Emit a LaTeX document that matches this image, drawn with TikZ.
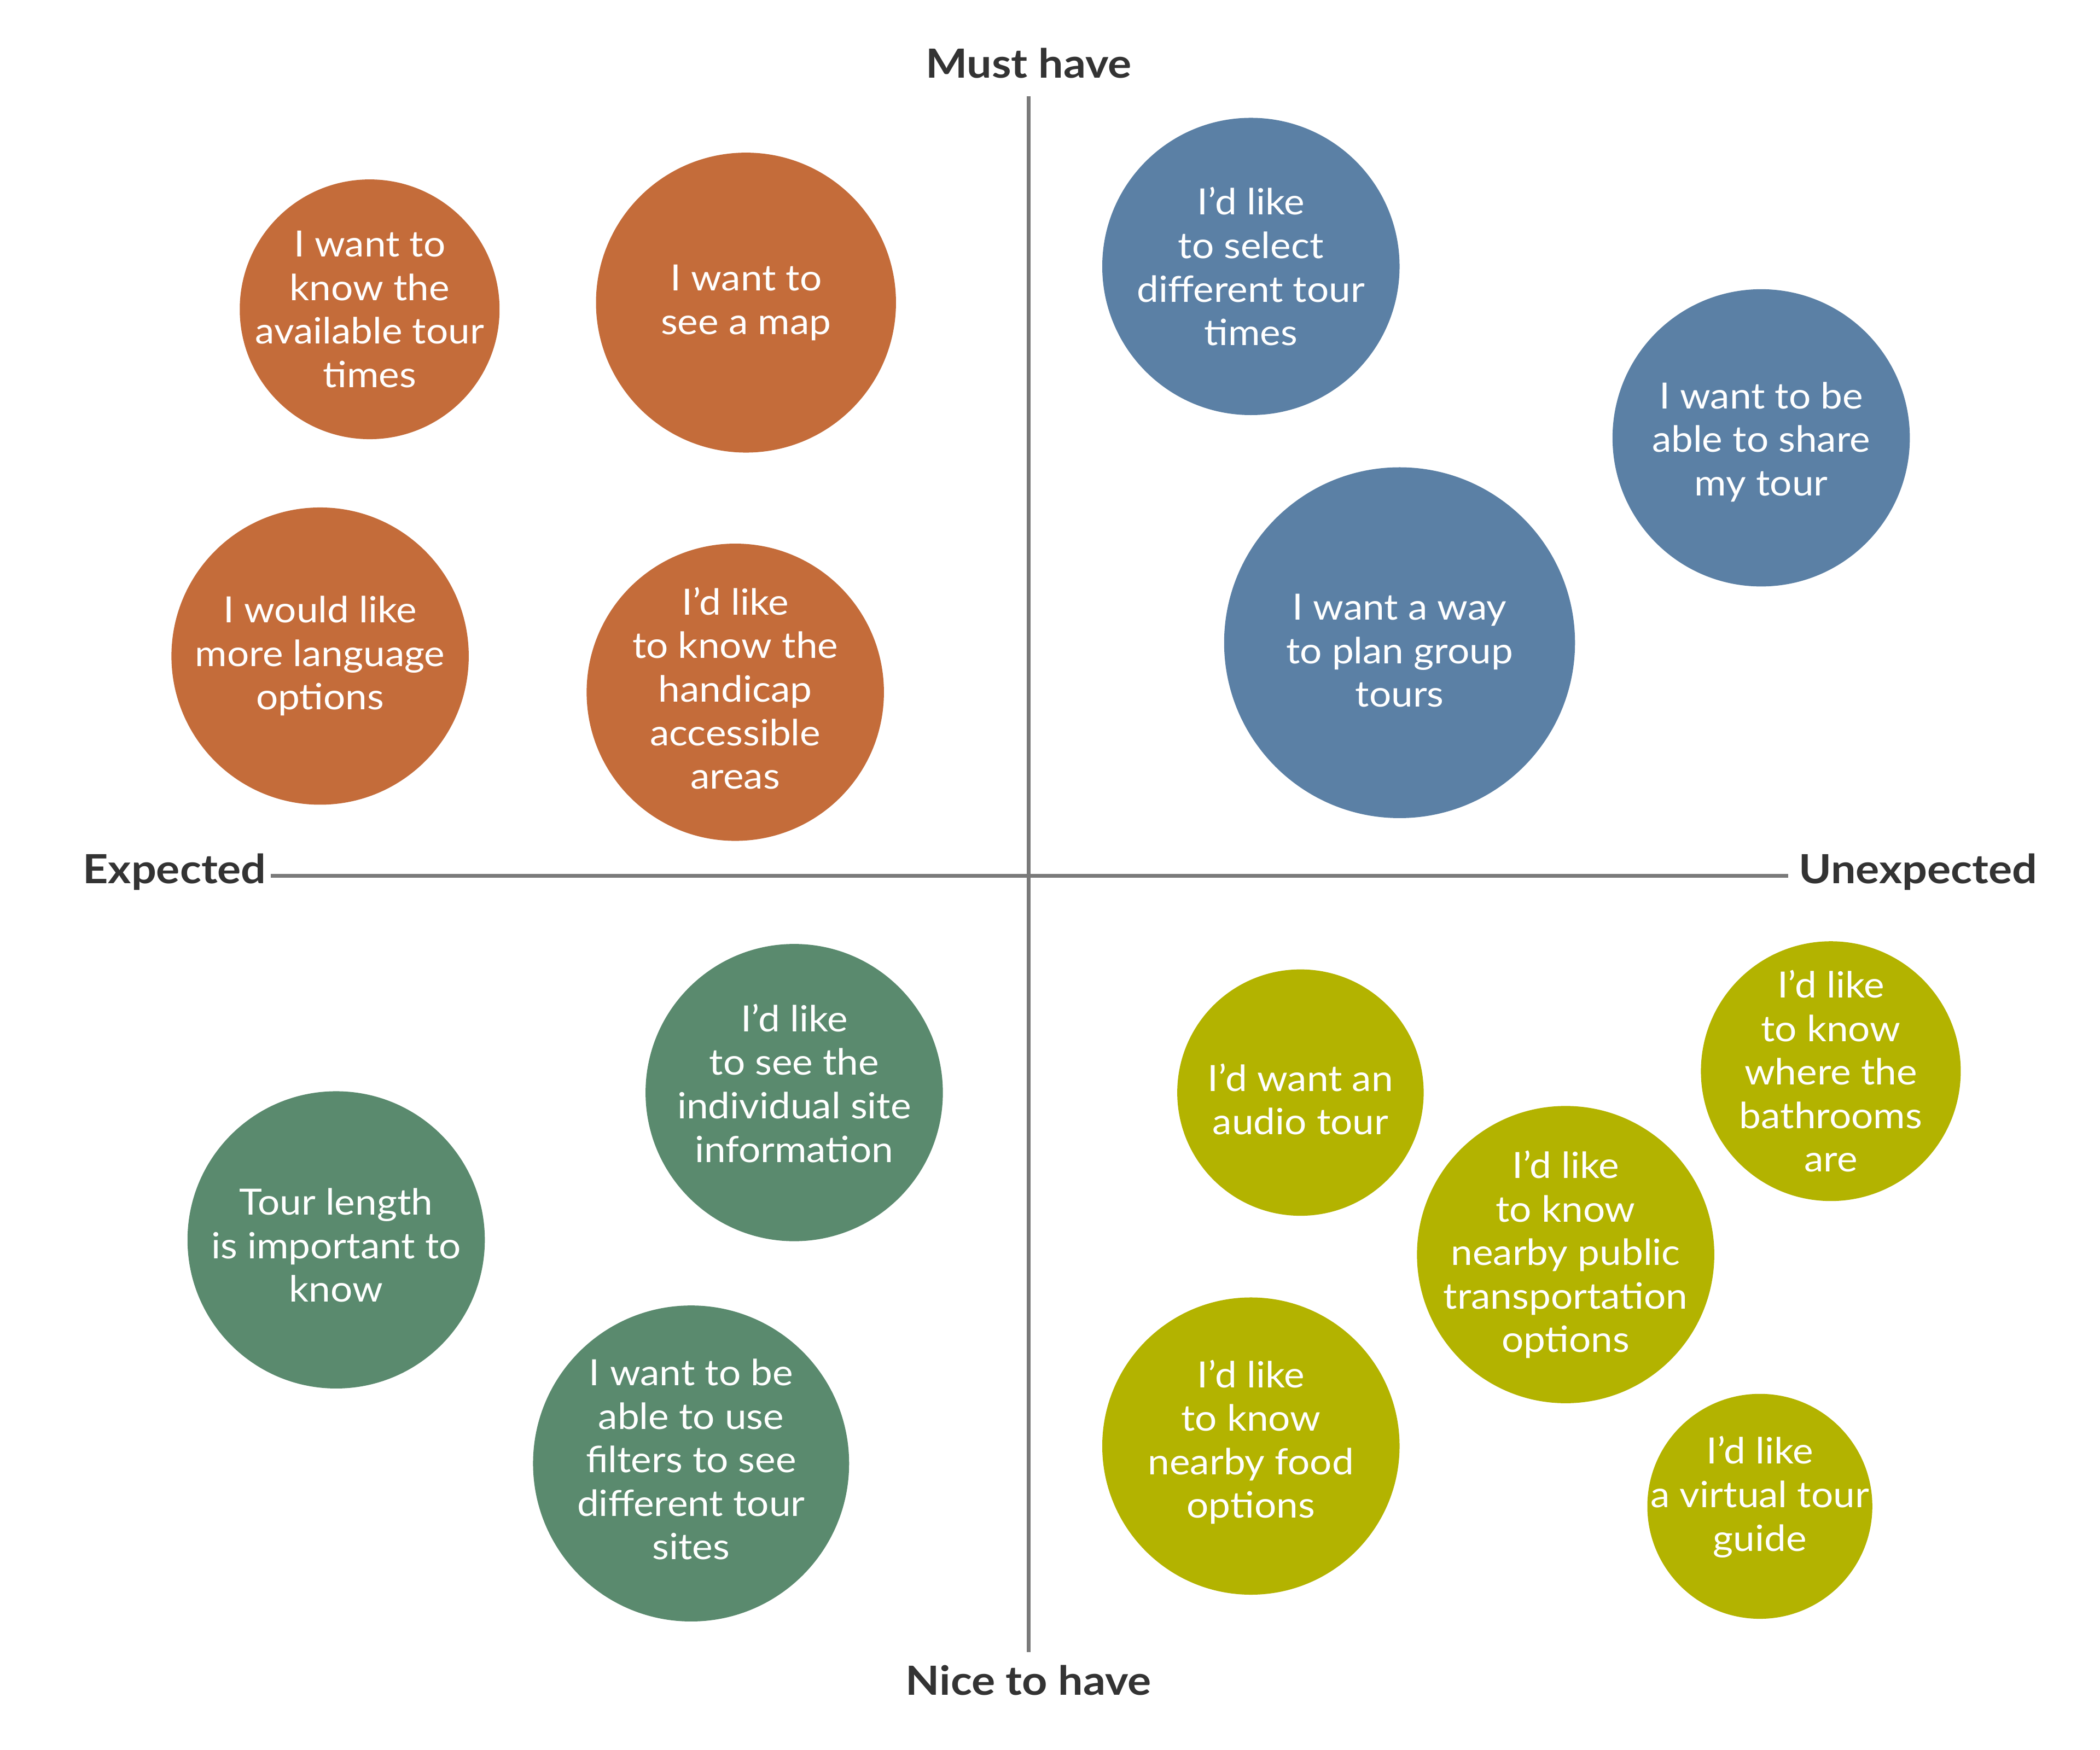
\documentclass[tikz,border=0pt]{standalone}
\usepackage{fontspec}
\setmainfont{Lato}[FakeStretch=1.075]
\newfontfamily\headfont{Lato}[FakeStretch=1.1,BoldFont={* Bold},BoldFeatures={FakeStretch=1.1}]
\definecolor{cOrange}{HTML}{C46C3A}
\definecolor{cBlue}{HTML}{5B80A5}
\definecolor{cGreen}{HTML}{5A8A6E}
\definecolor{cYellow}{HTML}{B3B300}
\definecolor{cAxis}{HTML}{7A7A7A}
\definecolor{cHead}{HTML}{333333}
\begin{document}
\begin{tikzpicture}[x=1pt,y=-1pt,
  disc/.style={circle,inner sep=0pt,minimum size=#1},
  orangeb/.style={disc=#1,fill=cOrange},
  blueb/.style={disc=#1,fill=cBlue},
  greenb/.style={disc=#1,fill=cGreen},
  yellowb/.style={disc=#1,fill=cYellow},
  label/.style={text=white,align=center,inner sep=0pt,
    font=\fontsize{27}{32.5}\selectfont},
  head/.style={text=cHead,font=\headfont\bfseries\fontsize{30}{36}\selectfont,inner sep=0pt},
  axis/.style={draw=cAxis,line width=3pt}]
\useasboundingbox (0,0) rectangle (1568,1307);
% axes
\coordinate (T) at (768,72);
\coordinate (B) at (768,1234);
\coordinate (L) at (202,654);
\coordinate (R) at (1335,654);
\draw[axis] (T) -- (B);
\draw[axis] (L) -- (R);
\node[head] (must) at (768,47) {Must have};
\node[head] (nice) at (768,1255) {Nice to have};
\node[head,anchor=east] (exp) at (199,651) {Expected};
\node[head,anchor=west] (unexp) at (1343,651) {Unexpected};
% orange
\node[orangeb=194] (o1) at (276,231) {};
\node[label] (o1t) at (o1) {I want to\\know the\\available tour\\times};
\node[orangeb=224] (o2) at (557,226) {};
\node[label] (o2t) at (o2) {I want to\\see a map};
\node[orangeb=222] (o3) at (239,490) {};
\node[label] (o3t) at (o3) {I would like\\more language\\options};
\node[orangeb=222] (o4) at (549,517) {};
\node[label,yshift=3] (o4t) at (o4) {I’d like\\to know the\\handicap\\accessible\\areas};
% blue
\node[blueb=222] (b1) at (934,199) {};
\node[label] (b1t) at (b1) {I’d like\\to select\\different tour\\times};
\node[blueb=222] (b2) at (1315,327) {};
\node[label,yshift=-3] (b2t) at (b2) {I want to be\\able to share\\my tour};
\node[blueb=262] (b3) at (1045,480) {};
\node[label,yshift=-6] (b3t) at (b3) {I want a way\\to plan group\\tours};
% green
\node[greenb=222] (g1) at (593,816) {};
\node[label,yshift=7] (g1t) at (g1) {I’d like\\to see the\\individual site\\information};
\node[greenb=222] (g2) at (251,926) {};
\node[label,yshift=-4] (g2t) at (g2) {Tour length\\is important to\\know};
\node[greenb=236] (g3) at (516,1093) {};
\node[label,yshift=3] (g3t) at (g3) {I want to be\\able to use\\filters to see\\different tour\\sites};
% yellow
\node[yellowb=184] (y1) at (971,816) {};
\node[label,yshift=-5] (y1t) at (y1) {I’d want an\\audio tour};
\node[yellowb=194] (y2) at (1367,800) {};
\node[label] (y2t) at (y2) {I’d like\\to know\\where the\\bathrooms\\are};
\node[yellowb=222] (y3) at (1169,937) {};
\node[label] (y3t) at (y3) {I’d like\\to know\\nearby public\\transportation\\options};
\node[yellowb=222] (y4) at (934,1080) {};
\node[label,yshift=3] (y4t) at (y4) {I’d like\\to know\\nearby food\\options};
\node[yellowb=168] (y5) at (1314,1125) {};
\node[label,yshift=7] (y5t) at (y5) {I’d like\\a virtual tour\\guide};
\end{tikzpicture}
\end{document}
